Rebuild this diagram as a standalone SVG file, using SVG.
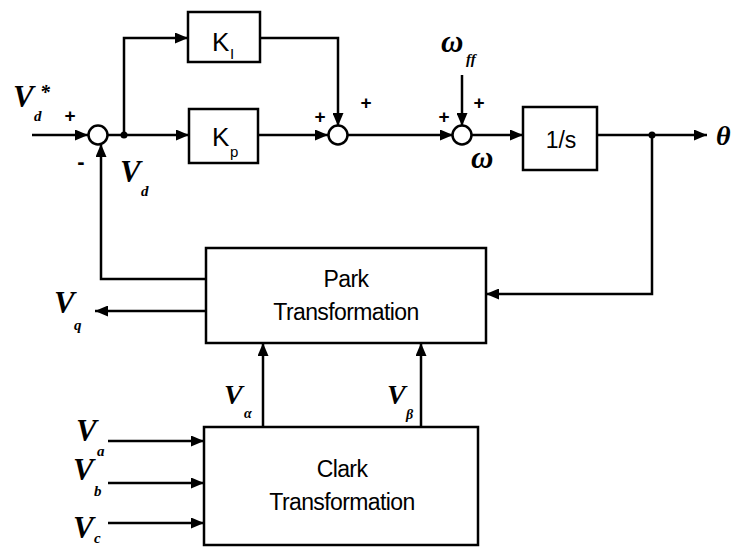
<svg xmlns="http://www.w3.org/2000/svg" width="737" height="547" viewBox="0 0 737 547">
<style>
.ln{fill:none;stroke:#000;stroke-width:2.5}
.bx{fill:#fff;stroke:#000;stroke-width:2.5}
.sm{fill:#fff;stroke:#000;stroke-width:2.5}
.bt{font-family:"Liberation Sans",Arial,sans-serif;font-size:23px;text-anchor:middle;letter-spacing:-0.6px}
.mv{font-family:"Liberation Serif","Times New Roman",serif;font-style:italic;font-weight:bold;font-size:31px}
.sb{font-family:"Liberation Serif","Times New Roman",serif;font-style:italic;font-weight:bold;font-size:15px}
.sg{font-family:"Liberation Sans",Arial,sans-serif;font-weight:bold;font-size:19px;text-anchor:middle}
</style>
<defs>
<marker id="ar" markerUnits="userSpaceOnUse" markerWidth="13" markerHeight="11" refX="13" refY="5.5" orient="auto">
<path d="M0,0 L13,5.5 L0,11 z" fill="#000"/>
</marker>
</defs>

<g id="connectors">
<path class="ln" d="M32,135 H88" marker-end="url(#ar)"/>
<path class="ln" d="M107,135 H189" marker-end="url(#ar)"/>
<path class="ln" d="M124,135 V38 H188" marker-end="url(#ar)"/>
<path class="ln" d="M258,135 H328" marker-end="url(#ar)"/>
<path class="ln" d="M260,38 H338 V126" marker-end="url(#ar)"/>
<path class="ln" d="M347,135 H453" marker-end="url(#ar)"/>
<path class="ln" d="M462,75 V126" marker-end="url(#ar)"/>
<path class="ln" d="M471,135 H523" marker-end="url(#ar)"/>
<path class="ln" d="M597,135 H707" marker-end="url(#ar)"/>
<path class="ln" d="M652,135 V294 H486" marker-end="url(#ar)"/>
<path class="ln" d="M206,279 H101 V144" marker-end="url(#ar)"/>
<path class="ln" d="M206,311 H95" marker-end="url(#ar)"/>
<path class="ln" d="M263,427 V343" marker-end="url(#ar)"/>
<path class="ln" d="M421,427 V343" marker-end="url(#ar)"/>
<path class="ln" d="M108,441 H204" marker-end="url(#ar)"/>
<path class="ln" d="M108,483 H204" marker-end="url(#ar)"/>
<path class="ln" d="M108,523 H204" marker-end="url(#ar)"/>
<circle cx="124" cy="135" r="3.5" fill="#000"/>
<circle cx="652" cy="135" r="3.5" fill="#000"/>
</g>

<g id="sum1"><circle class="sm" cx="98" cy="135" r="9.5"/></g>
<g id="sum2"><circle class="sm" cx="338" cy="135" r="9.5"/></g>
<g id="sum3"><circle class="sm" cx="462" cy="135" r="9.5"/></g>

<g id="ki">
<rect class="bx" x="188" y="12" width="72" height="50"/>
<text x="212" y="51" font-family="Liberation Sans,Arial,sans-serif" font-size="26">K</text>
<text x="230" y="59" font-family="Liberation Sans,Arial,sans-serif" font-size="15">I</text>
</g>
<g id="kp">
<rect class="bx" x="189" y="109" width="69" height="54"/>
<text x="212" y="146" font-family="Liberation Sans,Arial,sans-serif" font-size="26">K</text>
<text x="230" y="157" font-family="Liberation Sans,Arial,sans-serif" font-size="15">p</text>
</g>
<g id="integrator">
<rect class="bx" x="523" y="107" width="74" height="63"/>
<text x="561" y="148" class="bt" style="letter-spacing:0">1/s</text>
</g>
<g id="park">
<rect class="bx" x="206" y="248" width="280" height="95"/>
<text x="346" y="287" class="bt">Park</text>
<text x="346" y="320" class="bt">Transformation</text>
</g>
<g id="clark">
<rect class="bx" x="204" y="427" width="274" height="118"/>
<text x="342" y="477" class="bt">Clark</text>
<text x="342" y="510" class="bt">Transformation</text>
</g>

<g id="labels">
<text x="13" y="107" class="mv">V</text><text x="34" y="121" class="sb">d</text><text x="40" y="99" class="sb" style="font-size:20px">*</text>
<text x="70" y="122" class="sg">+</text>
<text x="81" y="169" class="sg" style="font-size:22px">-</text>
<text x="120" y="182" class="mv">V</text><text x="141" y="196" class="sb">d</text>
<text x="320" y="123" class="sg">+</text>
<text x="366" y="109" class="sg">+</text>
<text x="444" y="123" class="sg">+</text>
<text x="479" y="109" class="sg">+</text>
<text x="441" y="52" class="mv">ω</text><text x="466" y="64" class="sb">ff</text>
<text x="471" y="168" class="mv">ω</text>
<text x="716" y="145" class="mv" style="font-size:28px">θ</text>
<text x="54" y="313" class="mv">V</text><text x="74" y="330" class="sb">q</text>
<text x="224" y="404" class="mv" style="font-size:28px">V</text><text x="244" y="418" class="sb" style="font-size:14px">α</text>
<text x="387" y="404" class="mv" style="font-size:28px">V</text><text x="406" y="419" class="sb" style="font-size:14px">β</text>
<text x="76" y="441" class="mv">V</text><text x="97" y="456" class="sb">a</text>
<text x="73" y="480" class="mv">V</text><text x="94" y="496" class="sb">b</text>
<text x="73" y="538" class="mv">V</text><text x="94" y="543" class="sb">c</text>
</g>
</svg>
